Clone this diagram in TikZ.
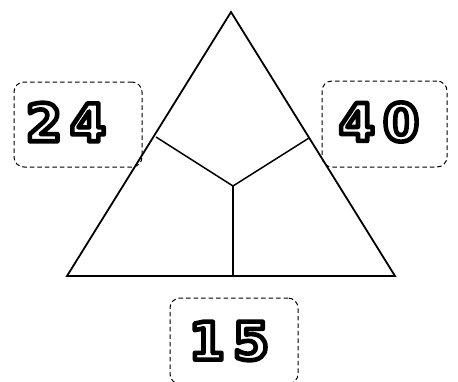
\documentclass[tikz,border=0pt]{standalone}
\usepackage{fontspec}
\setmainfont{DejaVu Sans}
\newcommand{\comicdigits}[1]{%
  {\color{white}\special{pdf:literal direct 0 G 2 Tr 4.6 w 1 j}#1\special{pdf:literal direct 0 Tr}}}
\tikzset{
  dashbox/.style={draw, rounded corners=10pt, line width=1pt, dash pattern=on 4.5pt off 3pt},
  edge/.style={line width=1.8pt, line join=miter},
  inner/.style={line width=1.5pt},
  numlabel/.style={inner sep=0pt, font=\bfseries\fontsize{52}{52}\selectfont}
}
\begin{document}
\begin{tikzpicture}[x=1pt,y=-1pt]
\useasboundingbox (0,0) rectangle (458,381);
% triangle
\coordinate (A) at (231,12);
\coordinate (L) at (67,276);
\coordinate (R) at (395,276);
\coordinate (C) at (233,186);
\coordinate (ML) at (156,137);
\coordinate (MR) at (309,138);
\coordinate (MB) at (233,276);
\draw[edge] (A) -- (L) -- (R) -- cycle;
\draw[inner] (ML) -- (C) -- (MR);
\draw[inner] (C) -- (MB);
% boxes
\node[dashbox, minimum width=128pt, minimum height=85pt] (boxL) at (78,124.5) {};
\node[dashbox, minimum width=125pt, minimum height=86pt] (boxR) at (384.5,124) {};
\node[dashbox, minimum width=128pt, minimum height=86pt] (boxB) at (234,341) {};
% labels
\node[numlabel] (tL) at (66,122) {\comicdigits{2\hspace{8pt}4}};
\node[numlabel] (tR) at (379,122) {\comicdigits{4\hspace{8pt}0}};
\node[numlabel] (tB) at (229,341) {\comicdigits{1\hspace{8pt}5}};
\end{tikzpicture}
\end{document}
